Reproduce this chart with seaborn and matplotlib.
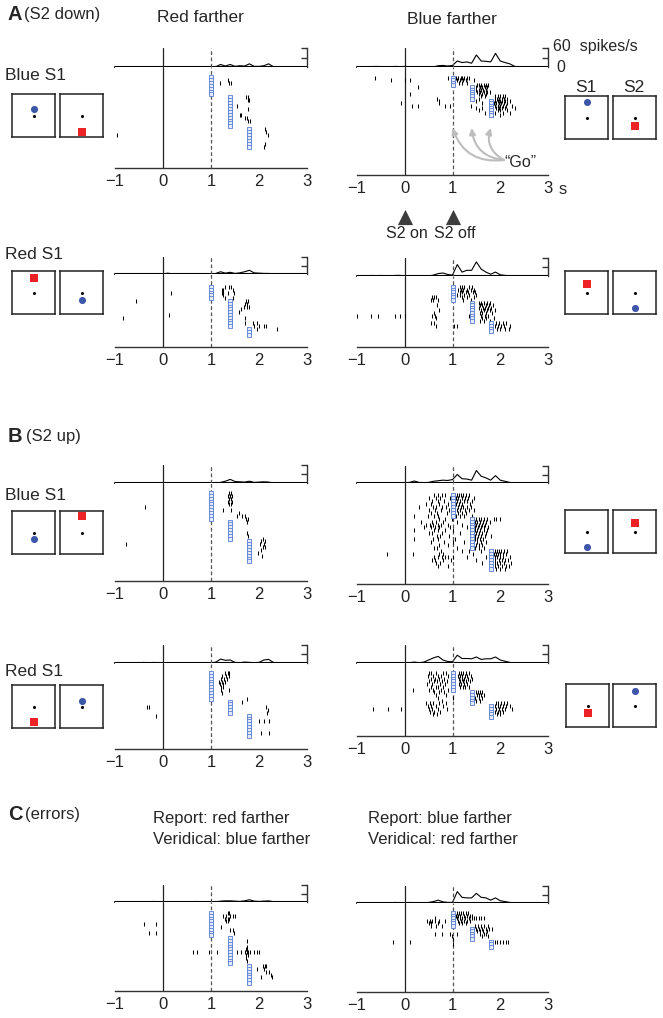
import numpy as np
import pandas as pd
import matplotlib
matplotlib.use("Agg")
import matplotlib.pyplot as plt
import seaborn as sns

sns.set_style("white")
plt.rcParams["font.family"] = ["Liberation Sans", "DejaVu Sans"]

W, H = 663, 1018

# PSTH bins (s) and go-cue times
psth_t = np.round(np.arange(-1.0, 2.45, 0.1), 2)
go_times = [1.0, 1.4, 1.8]

# ---- firing rates (spikes/s), one value per bin -------------------------
rate_a1l = [0,0,0,0,0,0,0,0,0,0, 0,0,0,0,0,0,0,0,0,0, 0,1,8,3,8,2,4,3,10,2, 2,4,10,1,0]
rate_a1r = [0,0,0,0,2,0,0,0,2,0, 2,1,0,0,0,0,0,4,5,3, 5,19,14,16,12,38,19,18,16,43, 19,14,10,2,0]
rate_a2l = [2,0,0,0,0,0,0,0,0,0, 0,3,0,0,0,0,0,0,0,0, 0,2,8,3,6,2,4,8,13,4, 3,2,2,0,0]
rate_a2r = [0,0,0,2,0,2,0,0,2,2, 1,0,0,0,0,0,3,8,10,5, 3,38,13,19,19,47,23,13,6,13, 4,2,1,0,0]
rate_b1l = [0,0,0,0,0,0,0,0,0,0, 0,0,0,0,0,0,0,0,0,0, 0,0,2,6,12,5,4,3,6,2, 3,4,3,0,0]
rate_b1r = [0,0,0,0,0,0,0,0,0,0, 1,2,7,2,1,2,6,8,10,9, 12,30,15,14,10,44,24,18,10,26, 10,6,2,0,0]
rate_b2l = [0,0,0,0,0,0,2,0,2,0, 0,0,0,0,0,0,0,0,0,0, 0,3,13,9,10,2,1,3,2,1, 2,10,12,2,0]
rate_b2r = [0,0,0,0,0,0,0,0,0,0, 0,1,3,1,3,10,17,22,10,5, 4,26,15,15,14,20,12,14,14,20, 10,6,2,0,0]
rate_cl = [0,0,0,0,0,0,0,0,2,0, 0,0,0,0,0,0,0,2,0,0, 0,0,3,4,4,3,2,4,8,3, 2,3,4,1,0]
rate_cr = [0,0,0,0,0,0,0,0,2,0, 0,2,0,0,0,2,5,10,4,2, 2,40,20,18,18,34,20,18,10,18, 8,5,2,0,0]

# ---- trials per go-cue time (1.0, 1.4, 1.8 s) ---------------------------
go_a1l = [7, 11, 7]
go_a1r = [4, 6, 7]
go_a2l = [5, 10, 3]
go_a2r = [6, 8, 4]
go_b1l = [10, 7, 8]
go_b1r = [8, 11, 7]
go_b2l = [10, 5, 8]
go_b2r = [7, 5, 5]
go_cl = [9, 10, 7]
go_cr = [6, 5, 3]

# ---- spike times per trial (s) ------------------------------------------
spk_a1l = [[], [1.35], [1.19, 1.38, 1.41], [], [], [], [],
           [1.73, 1.78], [1.77, 1.8], [], [1.55], [1.78], [], [1.6, 1.62],
           [1.7, 1.75], [1.78, 1.82], [], [],
           [2.13], [2.15], [-0.95, 2.18], [], [], [2.12], [2.1]]
spk_a1r = [[-0.62, 0.9, 1.08, 1.12, 1.17, 1.2, 1.25, 1.3, 1.35],
           [-0.28, 0.0, 0.1, 1.1, 1.15, 1.22, 1.28, 1.45],
           [1.05, 1.13, 1.19, 1.3],
           [1.52, 1.56, 1.6, 1.65, 1.7, 1.75],
           [0.27, 1.5, 1.58, 1.62, 1.68, 1.72],
           [1.5, 1.55, 1.6, 1.64, 1.7],
           [1.52, 1.58, 1.66, 1.72, 1.78],
           [0.1, 1.55, 1.62, 1.7],
           [1.6, 1.68, 1.9, 1.95, 2.0, 2.05, 2.1],
           [0.67, 1.4, 1.56, 1.88, 1.94, 1.98, 2.03, 2.08, 2.15],
           [0.72, 1.5, 1.9, 1.95, 2.0, 2.04, 2.1, 2.2],
           [-0.07, 0.72, 1.62, 1.86, 1.92, 1.97, 2.02, 2.08, 2.14],
           [0.15, 0.27, 0.85, 0.95, 1.38, 1.9, 1.96, 2.0, 2.06, 2.12, 2.25],
           [1.5, 1.62, 1.92, 1.98, 2.03, 2.1, 2.3],
           [1.55, 1.95, 2.0, 2.15],
           [1.68, 1.9, 2.05, 2.2],
           [1.85, 2.0]]
spk_a2l = [[1.3, 1.38, 1.42], [1.22, 1.24, 1.45], [0.16, 1.23, 1.25, 1.35, 1.47],
           [1.26], [1.3, 1.45], [-0.56, 1.72, 1.78], [1.7, 1.76], [1.68, 1.75, 1.8],
           [1.62], [1.58], [0.13], [-0.84, 1.71], [], [1.71, 1.88, 1.95],
           [1.9, 2.0, 2.1, 2.15], [1.95, 2.37], [], []]
spk_a2r = [[1.15, 1.2, 1.25, 1.35, 1.4],
           [1.12, 1.18, 1.22, 1.3, 1.38, 1.45],
           [1.15, 1.2, 1.28, 1.32, 1.42, 1.48],
           [1.1, 1.16, 1.24, 1.35, 1.5],
           [0.58, 0.62, 0.66, 1.2, 1.3, 1.44],
           [0.55, 0.6, 0.7, 1.22, 1.38],
           [1.55, 1.6, 1.66, 1.72, 1.78],
           [0.68, 1.58, 1.62, 1.7, 1.76, 1.84],
           [1.56, 1.64, 1.68, 1.74, 1.8],
           [0.72, 1.6, 1.66, 1.72, 1.78, 1.88],
           [0.62, 1.58, 1.62, 1.7, 1.82],
           [-0.99, -0.7, -0.55, -0.2, -0.1, 0.0, 0.57, 0.64, 1.35, 1.6, 1.68, 1.75],
           [0.65, 1.62, 1.7, 1.86],
           [1.58, 1.66, 1.78],
           [0.55, 0.62, 1.92, 1.98, 2.05, 2.12],
           [0.65, 1.03, 1.1, 1.9, 1.96, 2.02, 2.08, 2.2],
           [1.94, 2.0, 2.1, 2.18],
           []]
spk_b1l = [[1.38, 1.42], [1.36, 1.4, 1.43], [1.38, 1.41], [1.35, 1.43], [1.37, 1.42],
           [-0.37], [1.25, 1.42], [1.58], [1.55, 1.65, 1.7], [1.72, 1.78],
           [1.75], [], [], [], [1.75], [1.78], [2.08], [2.05, 2.12],
           [-0.78, 2.02, 2.1], [2.08, 2.12], [2.04], [1.98], [2.07], [], []]
spk_b1r = [[0.62, 0.7, 0.78, 0.85, 1.05, 1.1, 1.14, 1.18, 1.22, 1.28, 1.35],
           [0.5, 0.66, 0.74, 0.95, 1.04, 1.08, 1.12, 1.2, 1.26, 1.32, 1.45],
           [0.58, 0.7, 0.82, 1.06, 1.1, 1.16, 1.24, 1.3, 1.4],
           [0.45, 0.55, 0.72, 0.9, 1.02, 1.08, 1.14, 1.2, 1.36],
           [0.3, 0.6, 0.65, 0.78, 0.86, 1.05, 1.12, 1.18, 1.22, 1.3, 1.38],
           [0.5, 0.64, 0.76, 0.92, 1.06, 1.1, 1.16, 1.26, 1.34, 1.45],
           [0.56, 0.68, 0.88, 1.04, 1.12, 1.2, 1.28],
           [0.2, 0.48, 0.62, 0.7, 1.08, 1.15, 1.24, 1.4],
           [0.72, 0.85, 0.98, 1.46, 1.5, 1.55, 1.6, 1.66, 1.72, 1.86, 1.92, 2.0],
           [0.35, 0.58, 0.66, 0.8, 1.1, 1.48, 1.52, 1.58, 1.64, 1.7, 1.78],
           [0.45, 0.52, 0.6, 0.7, 0.76, 0.9, 1.2, 1.46, 1.5, 1.56, 1.62, 1.68],
           [0.4, 0.56, 0.64, 0.72, 0.95, 1.3, 1.47, 1.54, 1.6, 1.66, 1.74],
           [0.2, 0.62, 0.7, 0.84, 1.02, 1.48, 1.52, 1.58, 1.65, 1.72],
           [0.5, 0.58, 0.78, 1.15, 1.46, 1.5, 1.56, 1.62, 1.7],
           [0.68, 0.74, 0.92, 1.48, 1.54, 1.6, 1.68, 1.8],
           [0.2, 0.6, 0.7, 1.05, 1.47, 1.52, 1.58, 1.64],
           [0.55, 0.82, 1.0, 1.25, 1.46, 1.52, 1.6, 1.7],
           [0.72, 0.9, 1.5, 1.56, 1.62],
           [0.62, 0.68, 1.1, 1.48, 1.55, 1.66],
           [0.75, 1.2, 1.35, 1.6, 1.9, 1.94, 1.98, 2.02, 2.08, 2.14],
           [-0.38, 0.18, 0.72, 0.8, 1.42, 1.86, 1.92, 1.96, 2.0, 2.06, 2.12],
           [0.62, 0.7, 0.78, 0.84, 0.9, 1.0, 1.3, 1.7, 1.88, 1.94, 2.0, 2.05, 2.2],
           [0.58, 0.64, 0.8, 0.96, 1.5, 1.9, 1.98, 2.04, 2.1, 2.16],
           [0.66, 0.74, 1.62, 1.88, 1.93, 2.0, 2.08, 2.22],
           [0.7, 0.9, 1.9, 1.96, 2.04, 2.12, 2.18],
           [1.92, 2.0, 2.1]]
spk_b2l = [[1.3, 1.35, 1.38], [1.22, 1.32, 1.38], [1.2, 1.28, 1.34], [0.96, 1.16, 1.22, 1.3],
           [1.18, 1.25], [1.2, 1.26], [1.2, 1.37], [1.22], [], [1.76],
           [1.64], [], [-0.34, -0.3, 2.14], [2.18], [2.16],
           [-0.14], [], [2.0, 2.1, 2.2], [], [], [], [2.05, 2.2], []]
spk_b2r = [[0.5, 0.56, 0.66, 0.8, 0.86, 1.14, 1.18, 1.22, 1.28, 1.34],
           [0.48, 0.6, 0.7, 0.76, 0.9, 1.12, 1.16, 1.2, 1.26, 1.3, 1.38],
           [0.54, 0.64, 0.72, 0.82, 1.14, 1.2, 1.24, 1.32, 1.4],
           [0.5, 0.62, 0.68, 0.78, 0.88, 1.15, 1.22, 1.28, 1.36],
           [0.46, 0.58, 0.74, 0.84, 1.13, 1.18, 1.25, 1.3],
           [0.55, 0.65, 0.7, 0.8, 1.16, 1.22, 1.27, 1.35],
           [0.18, 0.5, 0.6, 0.76, 0.9, 1.04],
           [0.62, 0.72, 0.82, 1.5, 1.54, 1.58, 1.62],
           [0.66, 0.86, 1.52, 1.56, 1.6, 1.65],
           [0.7, 1.0, 1.48, 1.55, 1.62],
           [0.78, 1.5, 1.58],
           [0.45, 0.52, 0.6, 0.72, 0.86, 1.92, 1.96, 2.02, 2.08, 2.14],
           [0.48, 0.55, 0.66, 0.8, 1.9, 1.95, 2.0, 2.06, 2.12, 2.2],
           [-0.66, -0.35, -0.07, 0.5, 0.58, 0.7, 0.88, 1.92, 1.98, 2.04, 2.1, 2.25],
           [0.52, 0.62, 0.74, 1.9, 1.96, 2.0, 2.06],
           [0.6, 0.68, 1.94, 2.0],
           []]
spk_cl = [[1.35, 1.38], [1.25, 1.32, 1.4, 1.45, 1.5], [1.3, 1.35, 1.38], [1.32, 1.36],
          [-0.4, -0.15], [1.2], [1.4, 1.46], [-0.3, -0.15, 1.47], [], [],
          [1.75], [], [1.75], [1.72, 1.76],
          [0.62, 0.7, 0.96, 1.12, 1.55, 1.62, 1.7, 1.74, 1.78, 1.82, 1.9, 1.95, 2.0],
          [1.72, 1.78], [1.73], [1.75], [], [2.08, 2.12, 2.15], [1.95, 2.1],
          [2.15, 2.2], [2.25], [2.04, 2.27], [], []]
spk_cr = [[1.1, 1.14, 1.18, 1.22, 1.28, 1.32],
          [1.08, 1.12, 1.16, 1.24, 1.3, 1.36, 1.4],
          [0.64, 1.1, 1.15, 1.2, 1.26, 1.34, 1.4, 1.45, 1.5, 1.55, 1.6, 1.66],
          [0.46, 0.52, 0.58, 0.64, 0.72, 0.85, 1.12, 1.18, 1.24, 1.3, 1.36],
          [0.5, 0.56, 0.7, 1.14, 1.2, 1.28],
          [0.55, 0.66, 0.78, 1.48, 1.54, 1.6, 1.66, 1.74],
          [1.5, 1.56, 1.62, 1.7, 1.76, 1.82],
          [1.52, 1.58, 1.64, 1.72],
          [0.64, 0.78, 0.95, 1.09, 1.58, 1.66, 1.7],
          [0.98, 1.62, 1.75],
          [1.0],
          [-0.25, 0.1, 1.88, 1.94, 2.0, 2.06, 2.12, 2.17],
          [1.0],
          []]

# ---- stimulus icons: (S1 colour, S1 height, S2 colour, S2 height) ---------
stim_a1l = ("blue", 0.65, "red", 0.12)
stim_a1r = ("blue", 0.86, "red", 0.31)
stim_a2l = ("red", 0.84, "blue", 0.33)
stim_a2r = ("red", 0.69, "blue", 0.14)
stim_b1l = ("blue", 0.36, "red", 0.88)
stim_b1r = ("blue", 0.14, "red", 0.69)
stim_b2l = ("red", 0.14, "blue", 0.63)
stim_b2r = ("red", 0.32, "blue", 0.84)

# ---- layout in pixels: x(-1), x(3), bracket top, baseline, axis, first row, row pitch
panels = [
    (rate_a1l, go_a1l, spk_a1l, 115, 307, 48, 67, 168, 77, 2.9),
    (rate_a1r, go_a1r, spk_a1r, 357, 548, 48, 67, 175, 78, 2.3),
    (rate_a2l, go_a2l, spk_a2l, 115, 307, 257, 274, 347, 287, 2.8),
    (rate_a2r, go_a2r, spk_a2r, 357, 548, 258, 276, 347, 287, 2.6),
    (rate_b1l, go_b1l, spk_b1l, 115, 307, 465, 483, 581, 493, 2.85),
    (rate_b1r, go_b1r, spk_b1r, 357, 548, 466, 483, 584, 495, 2.95),
    (rate_b2l, go_b2l, spk_b2l, 115, 307, 645, 663, 749, 673, 2.85),
    (rate_b2r, go_b2r, spk_b2r, 357, 548, 645, 663, 736, 673, 2.75),
    (rate_cl, go_cl, spk_cl, 115, 307, 885, 902, 991, 913, 2.8),
    (rate_cr, go_cr, spk_cr, 357, 548, 886, 903, 992, 913, 2.6),
]
icons = [(stim_a1l, 12, 60, 94), (stim_a1r, 565, 613, 96),
         (stim_a2l, 12, 60, 271), (stim_a2r, 565, 613, 271),
         (stim_b1l, 12, 60, 511), (stim_b1r, 565, 613, 510),
         (stim_b2l, 12, 60, 685), (stim_b2r, 566, 613, 684)]

STIM_COL = {"blue": "#3d57a8", "red": "#ec2227"}
SPINE = "#333333"

fig = plt.figure(figsize=(W / 100, H / 100), dpi=100)


def px_axes(x0, y0, x1, y1):
    return fig.add_axes([x0 / W, 1 - y1 / H, (x1 - x0) / W, (y1 - y0) / H])


def ftext(x, y, s, **kw):
    kw.setdefault("fontsize", 11.5)
    kw.setdefault("va", "center")
    fig.text(x / W, 1 - y / H, s, **kw)


raster_axes = []
for rate, go, spk, x0, x1, top, base, bot, first, pitch in panels:
    # PSTH strip with 60 spikes/s bracket
    ap = px_axes(x0, top, x1, base)
    ap.set_xlim(-1, 3)
    ap.set_ylim(0, 60)
    sns.lineplot(x=psth_t, y=rate, ax=ap, color="black", lw=0.8)
    ap.axhline(0, color="black", lw=1.5, clip_on=False)
    ap.axvline(0, color="#222222", lw=0.9)
    ap.axvline(1, color="#555555", lw=0.9, ls=(0, (3, 2)))
    for s in ["top", "left", "bottom"]:
        ap.spines[s].set_visible(False)
    ap.spines["right"].set_color(SPINE)
    ap.spines["right"].set_linewidth(1)
    ap.set_xticks([])
    ap.yaxis.tick_right()
    ap.set_yticks([30, 60])
    ap.set_yticklabels([])
    ap.tick_params(axis="y", direction="in", length=4, width=1, color=SPINE)
    ap.set_xlabel("")
    ap.set_ylabel("")

    # raster
    ar = px_axes(x0, base, x1, bot)
    ar.set_xlim(-1, 3)
    ar.set_ylim((bot - first) / pitch, -(first - base) / pitch)
    ar.axvline(0, color="#222222", lw=0.9)
    ar.axvline(1, color="#555555", lw=0.9, ls=(0, (3, 2)))
    rows = [(t, i) for i, tr in enumerate(spk) for t in tr]
    df = pd.DataFrame(rows, columns=["t", "trial"])
    sns.scatterplot(data=df, x="t", y="trial", ax=ar, marker="|", s=5,
                    linewidth=0.75, color="black", zorder=3)
    go_rows = []
    k = 0
    for g, c in zip(go_times, go):
        for _ in range(c):
            go_rows.append((g, k))
            k += 1
    dg = pd.DataFrame(go_rows, columns=["go", "trial"])
    sns.scatterplot(data=dg, x="go", y="trial", ax=ar, marker="s", s=9,
                    facecolor="#e2e9f8", edgecolor="#5b7fd1", linewidth=0.6,
                    zorder=4)
    for s in ["top", "left", "right"]:
        ar.spines[s].set_visible(False)
    ar.spines["bottom"].set_color(SPINE)
    ar.spines["bottom"].set_linewidth(1)
    ar.set_yticks([])
    ar.set_xticks([-1, 0, 1, 2, 3])
    ar.set_xticklabels(["\u22121", "0", "1", "2", "3"])
    ar.tick_params(axis="x", direction="in", length=4, width=1, color=SPINE,
                   labelsize=12, pad=4, labelcolor="#222222")
    ar.set_xlabel("")
    ar.set_ylabel("")
    raster_axes.append((ar, first, pitch))

# stimulus icons
for (c1, h1, c2, h2), bx1, bx2, by in icons:
    for bx, col, h in [(bx1, c1, h1), (bx2, c2, h2)]:
        ai = px_axes(bx, by, bx + 43, by + 43)
        ai.set_xlim(0, 1)
        ai.set_ylim(0, 1)
        ai.set_xticks([])
        ai.set_yticks([])
        for s in ai.spines.values():
            s.set_color("#222222")
            s.set_linewidth(1.1)
        sns.scatterplot(x=[0.5], y=[0.5], ax=ai, color="black", s=5,
                        linewidth=0)
        sns.scatterplot(x=[0.5], y=[h], ax=ai, color=STIM_COL[col],
                        marker="o" if col == "blue" else "s", s=26,
                        linewidth=0)

# "Go" arrows on the Blue-farther raster
ar, first, pitch = raster_axes[1]
for g in go_times:
    ar.annotate("", xy=(g, (128 - first) / pitch), xytext=(2.08, (160 - first) / pitch),
                arrowprops=dict(arrowstyle="-|>", color="#bdbdbd", lw=1.5,
                                connectionstyle="arc3,rad=-0.4",
                                shrinkA=0, shrinkB=0, mutation_scale=9))
ftext(520, 163, "\u201cGo\u201d", ha="center", fontsize=11.5)

# S2 on / off markers
at = px_axes(357, 205, 548, 245)
at.set_xlim(-1, 3)
at.set_ylim(0, 1)
at.axis("off")
sns.scatterplot(x=[0, 1], y=[0.7, 0.7], ax=at, marker="^", s=120,
                color="#3d3d3d", linewidth=0)
ftext(407, 233, "S2 on", ha="center", fontsize=11.5)
ftext(455, 233, "S2 off", ha="center", fontsize=11.5)

# texts
ftext(7, 15, "A", fontsize=14.5, fontweight="bold")
ftext(24, 15, "(S2 down)", fontsize=12)
ftext(200, 18, "Red farther", ha="center", fontsize=12.5)
ftext(452, 20, "Blue farther", ha="center", fontsize=12.5)
ftext(553, 47, "60  spikes/s", fontsize=11.5)
ftext(556, 67, "0", fontsize=11.5)
ftext(559, 190, "s", fontsize=12)
ftext(586, 87, "S1", ha="center", fontsize=12.5)
ftext(634, 87, "S2", ha="center", fontsize=12.5)
ftext(5, 76, "Blue S1", fontsize=12.5)
ftext(5, 255, "Red S1", fontsize=12.5)
ftext(8, 437, "B", fontsize=14.5, fontweight="bold")
ftext(26, 437, "(S2 up)", fontsize=12)
ftext(5, 496, "Blue S1", fontsize=12.5)
ftext(5, 672, "Red S1", fontsize=12.5)
ftext(8, 814, "C", fontsize=14.5, fontweight="bold")
ftext(25, 814, "(errors)", fontsize=12)
ftext(153, 818, "Report: red farther", fontsize=12)
ftext(153, 839, "Veridical: blue farther", fontsize=12)
ftext(368, 818, "Report: blue farther", fontsize=12)
ftext(368, 839, "Veridical: red farther", fontsize=12)

fig.savefig("out.png", dpi=100)
